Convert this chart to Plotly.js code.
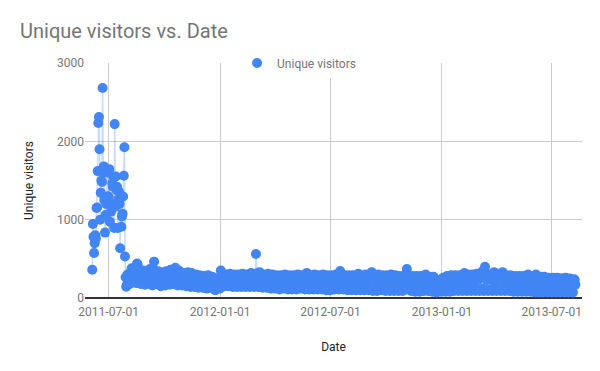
<!DOCTYPE html>
<html>
<head>
<meta charset="utf-8">
<script src="https://cdn.plot.ly/plotly-3.0.1.min.js"></script>
<style>html,body{margin:0;padding:0;background:#fff}#chart{width:600px;height:371px}</style>
</head>
<body>
<div id="chart"></div>
<script>
// Daily unique visitors, first day 2011-06-04
const startDate = '2011-06-04';
const jun2011 = [360,945,780,575,700,800,760,1150,1155,1620,2235,2310,1900,1000,1345,1500,1480,2680,1610,1680,1250,835,1060,1200,1635,1600,1300];
const jul2011 = [1290,1645,975,1210,1100,1150,1465,1420,1550,895,2220,1165,1550,1380,1420,895,1260,1360,1200,635,1295,910,1040,1075,1295,1560,1925,530,265,145,170];
const aug2011 = [300,280,250,200,180,290,330,380,270,240,210,320,340,350,280,190,440,420,330,300,270,220,180,290,330,310,350,250,200,170,270];
const sep2011 = [300,330,280,210,190,340,370,300,290,250,160,210,360,464,330,290,220,180,310,320,340,280,230,170,150,270,330,320,290,220];
const oct2011 = [190,160,290,340,310,300,250,200,170,320,360,330,310,260,210,180,310,340,385,300,250,180,160,290,350,330,310,260,190,160,280];
const nov2011 = [300,320,290,240,180,150,270,310,330,290,250,170,140,280,320,300,280,230,160,140,270,300,280,220,170,130,250,290,280,250];
const dec2011 = [220,150,130,260,280,270,240,210,150,120,250,290,280,250,220,160,130,240,270,260,190,160,110,100,160,220,250,240,190,140,120];
const jan2012 = [130,350,290,280,270,230,160,150,280,300,290,270,240,170,150,270,310,290,280,250,160,140,280,300,290,270,230,160,140,270,300];
const feb2012 = [290,280,250,170,140,280,310,290,270,240,170,140,270,300,280,290,230,160,140,280,320,300,280,250,170,140,290,310,562];
const mar2012 = [300,270,170,140,280,330,290,280,240,160,130,280,300,290,270,230,150,130,270,310,290,280,230,150,120,270,300,290,270,230,150];
const apr2012 = [120,260,290,280,270,220,140,110,250,290,280,270,220,140,120,260,300,280,270,230,140,110,260,290,280,270,220,130,110,260];
const may2012 = [290,280,270,220,140,110,250,300,290,280,230,140,120,260,290,280,270,220,130,110,260,310,320,280,220,140,110,250,290,280,270];
const jun2012 = [220,140,110,260,300,290,280,230,140,110,260,290,280,270,220,130,110,260,300,290,270,220,130,100,260,290,280,270,230,130];
const jul2012 = [100,260,290,280,230,220,130,110,270,300,290,280,220,130,110,270,345,290,280,230,130,110,260,290,280,270,220,130,100,260,290];
const aug2012 = [280,270,220,130,100,260,290,280,270,220,130,100,250,290,280,310,230,130,100,250,290,280,270,220,120,100,250,300,280,270,220];
const sep2012 = [120,100,240,290,280,270,330,120,90,250,290,280,270,220,120,90,260,300,280,270,220,120,100,260,290,280,270,230,120,90];
const oct2012 = [260,290,280,270,220,120,90,260,300,290,270,220,120,90,250,290,280,270,220,110,90,250,280,270,260,210,110,90,240,280,270];
const nov2012 = [260,210,110,370,250,280,270,260,210,110,90,250,280,270,260,210,110,80,240,280,270,220,160,100,80,240,280,270,260,210];
const dec2012 = [110,90,250,270,300,260,210,110,90,240,270,260,250,200,100,80,240,270,260,220,160,90,70,110,130,200,230,220,170,90,80];
const jan2013 = [100,230,260,250,190,100,80,250,280,270,260,210,100,80,260,290,280,270,220,110,90,260,290,280,270,220,110,90,260,290,280];
const feb2013 = [270,220,110,90,270,300,320,280,220,110,90,270,300,290,280,230,110,90,270,300,290,280,220,110,90,270,310,290];
const mar2013 = [280,230,110,90,270,310,300,290,345,120,90,280,400,300,290,230,110,90,270,300,290,280,230,110,90,270,310,330,280,220,110];
const apr2013 = [90,270,300,290,280,230,110,90,270,300,330,280,220,110,90,260,290,280,270,220,110,90,260,290,280,270,210,100,80,250];
const may2013 = [280,270,260,210,100,80,250,280,270,260,200,100,80,250,280,270,260,200,100,80,240,280,300,260,200,90,80,240,270,260,250];
const jun2013 = [200,90,70,240,300,260,250,200,90,70,240,270,260,250,190,90,70,230,270,260,250,190,90,70,230,260,250,240,190,80];
const jul2013 = [70,230,260,250,190,180,80,70,230,260,250,240,190,80,70,230,250,250,240,190,80,70,220,260,250,240,190,80,70,220,250];
const aug2013 = [240,230,180,80,70,220,240,230,170];

const tickDates = ['2011-07-01','2012-01-01','2012-07-01','2013-01-01','2013-07-01'];
const yTicks = [0,1000,2000,3000];
const seriesName = 'Unique visitors';

const visitors = [].concat(jun2011,jul2011,aug2011,sep2011,oct2011,nov2011,dec2011,
  jan2012,feb2012,mar2012,apr2012,may2012,jun2012,jul2012,aug2012,sep2012,oct2012,nov2012,dec2012,
  jan2013,feb2013,mar2013,apr2013,may2013,jun2013,jul2013,aug2013);

const dates = [];
const d0 = new Date(startDate + 'T00:00:00Z');
for (let i = 0; i < visitors.length; i++) {
  const d = new Date(d0.getTime() + i * 86400000);
  dates.push(d.toISOString().slice(0,10));
}

const blue = '#4285F4';
const traces = [
  {x: dates, y: visitors, type: 'scatter', mode: 'lines', showlegend: false, hoverinfo: 'skip',
   line: {color: 'rgba(66,133,244,0.3)', width: 1.5}},
  {x: dates, y: visitors, type: 'scatter', mode: 'markers', name: seriesName,
   marker: {color: blue, size: 10}}
];

const font = {family: 'Roboto, Arial, sans-serif', size: 12, color: '#757575'};
const layout = {
  width: 600, height: 371,
  margin: {l: 85, r: 18, t: 63, b: 73},
  paper_bgcolor: '#fff', plot_bgcolor: '#fff',
  font: font,
  title: {text: 'Unique visitors vs. Date', x: 20/600, xanchor: 'left', xref: 'container',
          y: 1 - 31/371, yanchor: 'middle', yref: 'container',
          font: {family: 'Roboto, Arial, sans-serif', size: 20, color: '#757575'}},
  xaxis: {type: 'date', range: ['2011-05-23','2013-08-20'], tickvals: tickDates, ticktext: tickDates,
          showgrid: true, gridcolor: '#cccccc', gridwidth: 1, zeroline: false, showline: false,
          ticks: '', ticklabelstandoff: 5, tickfont: {size: 12, color: '#757575'},
          title: {text: 'Date', standoff: 24, font: {size: 12, color: '#222'}}},
  yaxis: {range: [0, 3000], tickvals: yTicks, showgrid: true, gridcolor: '#cccccc', gridwidth: 1,
          zeroline: true, zerolinecolor: '#333', zerolinewidth: 1.5, showline: false,
          ticks: '', tickfont: {size: 12, color: '#757575'},
          title: {text: 'Unique visitors', standoff: 20, font: {size: 12, color: '#222'}}},
  legend: {orientation: 'h', x: 0.306, xanchor: 'left', y: 1, yanchor: 'middle',
           bgcolor: 'rgba(255,255,255,1)', borderwidth: 0, font: {size: 12, color: '#757575'}},
  hovermode: false
};

Plotly.newPlot('chart', traces, layout, {displayModeBar: false, staticPlot: true});
</script>
</body>
</html>
